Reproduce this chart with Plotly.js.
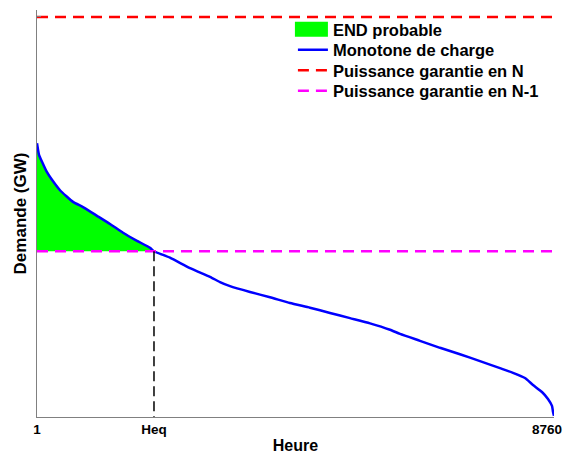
<!DOCTYPE html>
<html>
<head>
<meta charset="utf-8">
<script src="https://cdn.plot.ly/plotly-3.0.1.min.js"></script>
<style>html,body{margin:0;padding:0;background:#fff;}#chart{width:568px;height:454px;}</style>
</head>
<body>
<div id="chart"></div>
<script>
// Load duration curve (hours sorted, demand in GW, arbitrary scale)
const hours  = [1, 35, 86, 170, 255, 391, 611, 780, 1018, 1238, 1458, 1695, 1915, 1983, 2254, 2593, 2932, 3101, 3271, 3610, 3948, 4287, 4626, 4965, 5304, 5643, 5982, 6151, 6490, 6829, 7167, 7506, 7845, 8065, 8268, 8404, 8556, 8658, 8726, 8743, 8760];
const demand = [77.1, 75.1, 73.9, 72.1, 70.8, 69.0, 67.0, 66.1, 64.6, 63.2, 61.7, 60.3, 59.1, 58.5, 57.4, 55.6, 54.1, 53.2, 52.5, 51.5, 50.6, 49.6, 48.8, 47.9, 47.0, 46.1, 45.0, 44.3, 43.1, 41.9, 40.8, 39.6, 38.4, 37.6, 36.7, 35.5, 34.3, 33.1, 31.9, 30.9, 30.2];
const puissanceN   = 98.8;
const puissanceN1  = 58.5;
const heq = 1983;
const xTickVals  = [1, heq, 8760];
const xTickTexts = ["1", "Heq", "8760"];
const seriesNames = ["END probable", "Monotone de charge", "Puissance garantie en N", "Puissance garantie en N-1"];
const yMin = 30, yMax = 100;

// Green area: curve above N-1 level, from hour 1 to Heq
const fx = [], fy = [];
for (let i = 0; i < hours.length; i++) {
  if (hours[i] <= heq) { fx.push(hours[i]); fy.push(demand[i]); }
}
fx.push(heq, hours[0]); fy.push(puissanceN1, puissanceN1);

const font = {family: "Liberation Sans, Arial, sans-serif", weight: "bold", color: "#000"};

const traces = [
  {x: fx, y: fy, type: "scatter", mode: "lines", fill: "toself", fillcolor: "#00ff00",
   line: {width: 0, color: "#00ff00"}, name: seriesNames[0], hoverinfo: "skip"},
  {x: hours, y: demand, type: "scatter", mode: "lines", line: {color: "#0000ff", width: 2.5, shape: "spline", smoothing: 0.5},
   name: seriesNames[1]},
  {x: [hours[0], hours[hours.length - 1]], y: [puissanceN, puissanceN], type: "scatter", mode: "lines",
   line: {color: "#ff0000", width: 2.5, dash: "11px,7px"}, name: seriesNames[2]},
  {x: [hours[0], hours[hours.length - 1]], y: [puissanceN1, puissanceN1], type: "scatter", mode: "lines",
   line: {color: "#ff00ff", width: 2.5, dash: "11px,7px"}, name: seriesNames[3]},
  {x: [heq, heq], y: [puissanceN1, yMin], type: "scatter", mode: "lines",
   line: {color: "#000", width: 1.5, dash: "10px,5px"}, showlegend: false, hoverinfo: "skip"}
];

const layout = {
  width: 568, height: 454,
  margin: {l: 37, r: 14, t: 10, b: 37},
  paper_bgcolor: "#fff", plot_bgcolor: "#fff",
  showlegend: true,
  legend: {x: 0.495, y: 0.995, xanchor: "left", yanchor: "top", bgcolor: "rgba(0,0,0,0)",
           font: Object.assign({size: 16.5}, font), tracegroupgap: 0},
  xaxis: {range: [1, 8760], showgrid: false, zeroline: false, showline: true, linecolor: "#808080", linewidth: 1,
          tickvals: xTickVals, ticktext: xTickTexts, ticks: "", tickfont: Object.assign({size: 13.5}, font),
          ticklabeloverflow: "allow",
          title: {text: "Heure", font: Object.assign({size: 16}, font), standoff: 6}},
  yaxis: {range: [yMin, yMax], showgrid: false, zeroline: false, showline: true, linecolor: "#808080", linewidth: 1,
          tickvals: [puissanceN], ticktext: [""], ticks: "inside", ticklen: 4, tickcolor: "#808080",
          title: {text: "Demande (GW)", font: Object.assign({size: 17}, font), standoff: 2}}
};

Plotly.newPlot("chart", traces, layout, {displayModeBar: false, staticPlot: true}).then(function (gd) {
  // enlarge the filled-area legend swatch to a rectangle like the original
  gd.querySelectorAll(".legend .legendfill path").forEach(function (p) {
    p.setAttribute("d", "M2,-7.5h33v15h-33z");
  });
  // tighter legend row spacing, as in the original
  const items = gd.querySelectorAll(".legend .traces");
  let y0 = null;
  items.forEach(function (g, i) {
    const m = /translate\(\s*([-\d.]+)[ ,]+([-\d.]+)\s*\)/.exec(g.getAttribute("transform") || "");
    if (!m) return;
    if (y0 === null) y0 = parseFloat(m[2]);
    g.setAttribute("transform", "translate(" + m[1] + "," + (y0 + i * 20.5) + ")");
  });
  // keep the last hour label inside the figure, as in the original
  gd.querySelectorAll(".xtick text").forEach(function (t) {
    if (t.textContent === xTickTexts[xTickTexts.length - 1]) {
      t.setAttribute("x", (parseFloat(t.getAttribute("x") || "0") - 7).toString());
    }
  });
});
</script>
</body>
</html>
